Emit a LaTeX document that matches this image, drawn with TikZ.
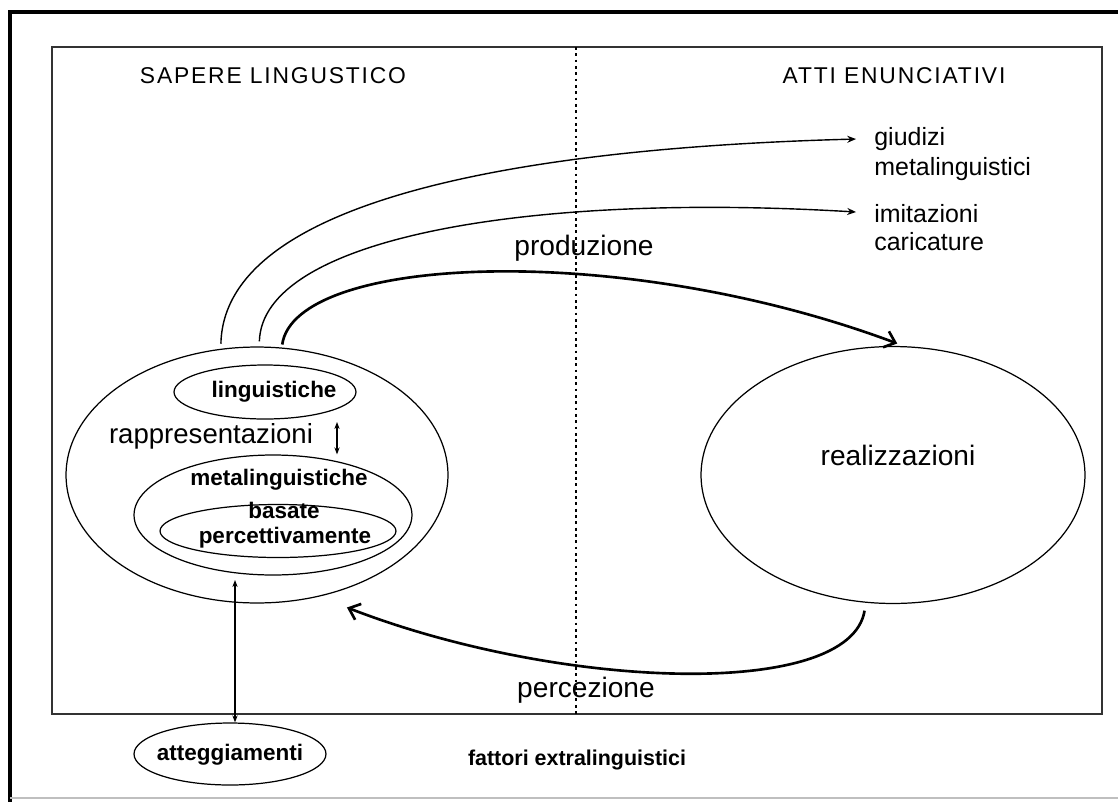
\documentclass[tikz,border=0pt]{standalone}
\usepackage{fontspec}
\setmainfont{Liberation Sans}
\usetikzlibrary{shapes.geometric, arrows.meta}

\begin{document}
\begin{tikzpicture}[x=0.02cm, y=-0.02cm,
		blob/.style={draw, ellipse, inner sep=0pt, line width=0.7pt},
		head/.style={inner sep=0pt, anchor=base, font=\fontsize{13}{15}\selectfont\addfontfeatures{LetterSpace=8}},
		side/.style={inner sep=0pt, anchor=base west, font=\fontsize{14.2}{16}\selectfont},
		big/.style={inner sep=0pt, anchor=base, font=\fontsize{16}{18}\selectfont},
		inlbl/.style={inner sep=0pt, anchor=base, font=\bfseries\fontsize{12.8}{15}\selectfont},
		thinarr/.style={-{Stealth[length=5pt,width=4pt]}, line width=0.8pt},
		thickarr/.style={-{Straight Barb[length=2mm,width=3.4mm]}, line width=1.5pt},
		dblarr/.style={{Stealth[length=4pt,width=3pt]}-{Stealth[length=4pt,width=3pt]}, line width=0.6pt}]
			\useasboundingbox (0,0) rectangle (1118,801);
			\clip (0,0) rectangle (1118,801);
			% frames
			\draw[line width=1.9pt] (1130,12) -- (10,12) -- (10,815);
			\draw[black!25, line width=0.6pt] (10,798) -- (1118,798);
			\draw[line width=0.8pt, black!80] (52,47) rectangle (1102,714);
			\draw[line width=0.8pt, dash pattern=on 1.6pt off 2pt] (576,47) -- (576,714);
			% headings
			\node[head] (sapt) at (273,83) {SAPERE LINGUSTICO};
			\node[head] (attt) at (894,83) {ATTI ENUNCIATIVI};
			% ellipses
			\node[blob, minimum width=7.64cm, minimum height=5.12cm] (sapere) at (257,475) {};
			\node[blob, minimum width=3.64cm, minimum height=1.08cm] (ling) at (265,392) {};
			\node[blob, minimum width=5.56cm, minimum height=2.40cm] (meta) at (273,515) {};
			\node[blob, minimum width=4.72cm, minimum height=1.06cm] (perc) at (278,531) {};
			\node[blob, minimum width=7.68cm, minimum height=5.14cm] (real) at (893,475) {};
			\node[blob, minimum width=3.84cm, minimum height=1.24cm] (att) at (230,754) {};
			% labels
			\node[inlbl] (lingl) at (274,397) {linguistiche};
			\node[big, font=\fontsize{15.7}{18}\selectfont] (rapp) at (211,443) {rappresentazioni};
			\node[inlbl] (metal) at (279,485) {metalinguistiche};
			\node[inlbl] (percl) at (284,518) {basate};
			\node[inlbl] (perclb) at (285,543) {percettivamente};
			\node[inlbl] (attl) at (230,760) {atteggiamenti};
			\node[inlbl, font=\bfseries\fontsize{12.2}{14}\selectfont] (fatt) at (577,765) {fattori extralinguistici};
			\node[big] (reall) at (898,465) {realizzazioni};
			\node[big] (prod) at (584,255) {produzione};
			\node[big] (perz) at (586,697) {percezione};
			\node[side] (giud) at (874,145) {giudizi};
			\node[side] (giudb) at (874,175) {metalinguistici};
			\node[side] (imit) at (874,222) {imitazioni};
			\node[side] (imitb) at (874,250) {caricature};
			% connectors
			\draw[thinarr, shorten <=1mm, shorten >=3.6mm] (sapere.106) .. controls (224,200) and (520,148) .. (giud.west);
			\draw[thinarr, shorten <=1mm, shorten >=3.6mm] (sapere.89) .. controls (262,240) and (520,192) .. (imit.west);
			\draw[thickarr, shorten <=0.6mm, shorten >=1.5mm] (sapere.79) .. controls (295,255) and (620,240) .. (real.85);
			\draw[thickarr, shorten <=1.6mm, shorten >=6mm] (real.258) .. controls (850,700) and (560,690) .. (sapere.297);
			\coordinate (rr) at (337,422);
			\draw[dblarr] (rr) -- (rr |- meta.north);
			\coordinate (aa) at (235,580);
			\draw[dblarr] (aa) -- (aa |- att.north);
		\end{tikzpicture}
\end{document}
